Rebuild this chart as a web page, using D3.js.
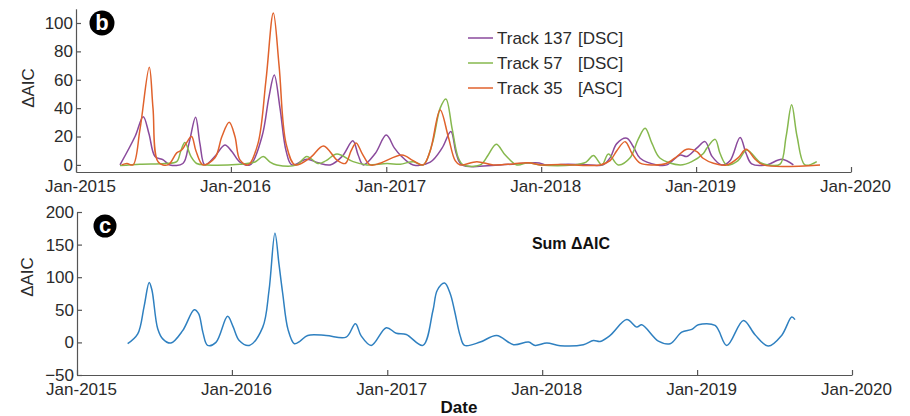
<!DOCTYPE html>
<html>
<head>
<meta charset="utf-8">
<script src="https://cdn.jsdelivr.net/npm/d3@7"></script>
<style>
  html, body { margin: 0; padding: 0; background: #fff; }
  svg { display: block; font-family: "Liberation Sans", Arial, Helvetica, sans-serif; }
</style>
</head>
<body>
<svg id="chart" width="910" height="416"></svg>
<script>
// ---------- DATA (x = decimal year, y = ΔAIC) ----------
const xTickLabels = ["Jan-2015", "Jan-2016", "Jan-2017", "Jan-2018", "Jan-2019", "Jan-2020"];
const topYTicks = [0, 20, 40, 60, 80, 100];
const bottomYTicks = [-50, 0, 50, 100, 150, 200];
const seriesNames = ["Track 137", "Track 57", "Track 35"];
const seriesModes = ["[DSC]", "[DSC]", "[ASC]"];

const track137 = [
  [2015.284,0],[2015.381,20],[2015.434,34],[2015.471,22],[2015.510,6],[2015.563,3.5],[2015.606,0],
  [2015.690,1],[2015.729,15],[2015.772,33.6],[2015.800,15],[2015.832,0],[2015.897,6],[2015.961,14],
  [2016.006,9.4],[2016.058,2],[2016.123,0],[2016.200,20],[2016.245,48],[2016.279,63.4],[2016.316,40],
  [2016.355,10],[2016.392,0],[2016.488,4],[2016.561,1.5],[2016.639,0],[2016.716,6],[2016.785,17],
  [2016.819,7],[2016.852,0],[2016.929,8],[2017.000,21],[2017.052,12],[2017.090,7],[2017.174,0],
  [2017.284,2],[2017.361,12],[2017.417,23.5],[2017.452,8],[2017.488,0],[2017.736,0],[2017.987,1.4],
  [2018.026,0],[2018.174,0.5],[2018.316,0],[2018.400,0],[2018.445,5],[2018.488,15],[2018.553,18.8],
  [2018.594,13],[2018.639,4.7],[2018.747,0],[2018.811,0],[2018.897,7],[2018.940,5.9],[2019.006,12],
  [2019.058,16.4],[2019.103,6],[2019.166,0],[2019.219,3],[2019.284,19.3],[2019.323,8],[2019.359,0.7],
  [2019.456,0],[2019.553,4],[2019.628,0]
];
const track57 = [
  [2015.284,-0.5],[2015.413,0.5],[2015.574,1],[2015.650,2.3],[2015.677,10],[2015.703,15.7],[2015.742,6],
  [2015.779,1],[2015.843,0],[2016.058,0.5],[2016.155,2],[2016.208,5.9],[2016.252,2],[2016.295,0],
  [2016.424,0],[2016.488,6],[2016.561,1],[2016.613,3],[2016.682,7.7],[2016.787,2.3],[2016.876,0],
  [2017.005,1],[2017.090,0.5],[2017.174,2.3],[2017.239,0],[2017.297,15],[2017.348,40],[2017.385,46.5],
  [2017.426,25],[2017.465,5],[2017.497,0],[2017.607,0],[2017.658,7],[2017.710,14.6],[2017.768,7],
  [2017.843,0],[2017.916,1.6],[2017.994,0],[2018.207,0],[2018.290,2],[2018.337,6.6],[2018.392,0],
  [2018.434,7.7],[2018.497,0],[2018.574,5],[2018.626,18],[2018.671,25.8],[2018.716,15],[2018.768,4.7],
  [2018.897,0],[2018.972,2.3],[2019.047,8],[2019.069,11.7],[2019.123,18],[2019.155,8],[2019.198,0],
  [2019.271,3],[2019.327,10.5],[2019.413,1.7],[2019.465,0],[2019.542,0.5],[2019.581,20],[2019.617,42.3],
  [2019.652,20],[2019.703,0],[2019.779,2.3]
];
const track35 = [
  [2015.295,0],[2015.329,1],[2015.368,0],[2015.413,25],[2015.473,68.8],[2015.497,40],[2015.531,2],
  [2015.594,0],[2015.650,8.5],[2015.682,10.5],[2015.710,15],[2015.746,20],[2015.774,10],[2015.819,0],
  [2015.897,5],[2015.942,20],[2015.989,30],[2016.026,20],[2016.058,3.5],[2016.112,0],[2016.174,15],
  [2016.226,60],[2016.273,107],[2016.310,70],[2016.355,15],[2016.413,0],[2016.510,5],[2016.596,13.4],
  [2016.682,3.5],[2016.736,1],[2016.774,10],[2016.806,15.5],[2016.845,8],[2016.897,0],[2016.961,1.2],
  [2017.101,7],[2017.174,3],[2017.239,0],[2017.284,10],[2017.348,38.7],[2017.400,20],[2017.445,3],
  [2017.477,0],[2017.585,2.3],[2017.690,0],[2017.819,0.7],[2017.916,1.5],[2017.994,0],[2018.123,0.3],
  [2018.381,0],[2018.445,3],[2018.488,10],[2018.542,16.4],[2018.587,8],[2018.639,1.2],[2018.723,0],
  [2018.807,1],[2018.876,5.9],[2018.940,11],[2019.005,9.4],[2019.045,4.7],[2019.112,1.2],[2019.198,0],
  [2019.271,5],[2019.323,11],[2019.381,4],[2019.434,0],[2019.800,0]
];
const sumAIC = [
  [2015.327,-2],[2015.392,13],[2015.433,55],[2015.466,92],[2015.484,80],[2015.521,21],[2015.555,5],
  [2015.606,-1],[2015.682,18],[2015.757,50],[2015.785,44],[2015.813,15],[2015.843,-4.6],[2015.897,0],
  [2015.972,40],[2016.006,25],[2016.047,3],[2016.112,-4.6],[2016.198,23],[2016.239,80],[2016.277,167.6],
  [2016.303,120],[2016.327,75],[2016.361,20],[2016.402,-2],[2016.439,2],[2016.488,10.7],[2016.606,10.7],
  [2016.735,8],[2016.795,28.6],[2016.832,10],[2016.897,-4.6],[2016.994,22.5],[2017.058,14],[2017.123,12],
  [2017.230,-4.6],[2017.295,49],[2017.323,80],[2017.370,91],[2017.406,75],[2017.434,49],[2017.471,10],
  [2017.499,-4.6],[2017.600,0.5],[2017.706,10.7],[2017.815,-3.5],[2017.912,0.5],[2017.955,-4.6],
  [2018.030,-1],[2018.116,-5],[2018.266,-3.5],[2018.331,3],[2018.374,1.5],[2018.439,10.7],[2018.546,35],
  [2018.611,23.5],[2018.643,27],[2018.750,2],[2018.826,-2],[2018.901,15.8],[2018.966,20],[2019.008,27],
  [2019.116,26],[2019.192,-4.6],[2019.299,33.7],[2019.374,11.8],[2019.460,-5.7],[2019.546,10.7],
  [2019.611,38.8],[2019.632,35]
];
const seriesData = [track137, track57, track35];
const seriesColors = ["#8a4a9c", "#86b84e", "#e0622c"];
const sumColor = "#2f80c0";

// ---------- helpers ----------
function toDate(t) {
  const y = Math.floor(t);
  const s = new Date(y, 0, 1).getTime(), e = new Date(y + 1, 0, 1).getTime();
  return new Date(s + (t - y) * (e - s));
}
const tickDates = xTickLabels.map((d, i) => new Date(2015 + i, 0, 1));
const fmt = d3.timeFormat("%b-%Y");

const svg = d3.select("#chart");
const axisColor = "#555";
const textColor = "#2b2b2b";

function drawPanel(cfg) {
  const x = d3.scaleTime().domain([new Date(2015,0,1), new Date(2020,0,1)]).range(cfg.xr);
  const y = d3.scaleLinear().domain(cfg.yd).range(cfg.yr);
  const g = svg.append("g");

  const xa = g.append("g").attr("transform", `translate(0,${cfg.yr[0]})`)
    .call(d3.axisBottom(x).tickValues(tickDates).tickFormat(fmt).tickSizeInner(-5).tickSizeOuter(0).tickPadding(8));
  const ya = g.append("g").attr("transform", `translate(${cfg.xr[0]},0)`)
    .call(d3.axisLeft(y).tickValues(cfg.yt).tickSizeInner(-5).tickSizeOuter(0).tickPadding(3));
  [xa, ya].forEach(a => {
    a.select(".domain").attr("stroke", axisColor).attr("stroke-width", 1.2);
    a.selectAll(".tick line").attr("stroke", axisColor).attr("stroke-width", 1.2);
    a.selectAll(".tick text").attr("fill", textColor).style("font-size", "17px")
      .style("font-family", '"Liberation Sans", Arial, sans-serif');
  });
  xa.selectAll(".tick text").attr("dx", 4);

  const line = d3.line().x(d => x(toDate(d[0]))).y(d => y(d[1])).curve(d3.curveCatmullRom.alpha(0.5));
  cfg.series.forEach((s, i) => {
    g.append("path").datum(s).attr("d", line).attr("fill", "none")
      .attr("stroke", cfg.colors[i]).attr("stroke-width", 1.5).attr("stroke-linejoin", "round");
  });

  g.append("text").attr("transform", `translate(${cfg.ylabX},${cfg.ylabY}) rotate(-90)`)
    .attr("text-anchor", "middle").attr("fill", textColor).style("font-size", "17px").text("ΔAIC");

  g.append("circle").attr("cx", cfg.lx).attr("cy", cfg.ly).attr("r", cfg.lr).attr("fill", "#000");
  g.append("text").attr("x", cfg.lx).attr("y", cfg.ly + 7).attr("text-anchor", "middle")
    .attr("fill", "#fff").style("font-size", "22px").style("font-weight", "bold").text(cfg.letter);
  return {x, y, g};
}

const topPanel = drawPanel({
  xr: [76, 851], yd: [-5, 110], yr: [172, 8.8], yt: topYTicks,
  series: seriesData, colors: seriesColors,
  ylabX: 34, ylabY: 88, lx: 102, ly: 23, lr: 12.5, letter: "b"
});

const legY = [38, 63, 88];
seriesNames.forEach((n, i) => {
  const lg = topPanel.g.append("g");
  lg.append("line").attr("x1", 468).attr("x2", 493).attr("y1", legY[i]).attr("y2", legY[i])
    .attr("stroke", seriesColors[i]).attr("stroke-width", 1.5);
  lg.append("text").attr("x", 497).attr("y", legY[i] + 6).attr("fill", textColor)
    .style("font-size", "17px").text(n);
  lg.append("text").attr("x", 578).attr("y", legY[i] + 6).attr("fill", textColor)
    .style("font-size", "17px").text(seriesModes[i]);
});

const botPanel = drawPanel({
  xr: [77, 852], yd: [-50, 200], yr: [375, 212], yt: bottomYTicks,
  series: [sumAIC], colors: [sumColor],
  ylabX: 33, ylabY: 277, lx: 105, ly: 226, lr: 11.5, letter: "c"
});

botPanel.g.append("text").attr("x", 571).attr("y", 249).attr("text-anchor", "middle")
  .style("font-size", "16px").style("font-weight", "bold").attr("fill", "#111").text("Sum ΔAIC");

svg.append("text").attr("x", 459).attr("y", 413).attr("text-anchor", "middle")
  .style("font-size", "17px").style("font-weight", "bold").attr("fill", "#111").text("Date");
</script>
</body>
</html>
